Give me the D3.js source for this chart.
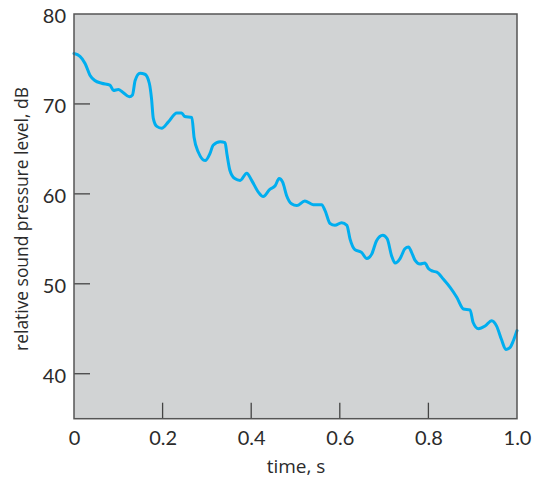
<!DOCTYPE html>
<html>
<head>
<meta charset="utf-8">
<script src="https://cdn.jsdelivr.net/npm/d3@7"></script>
<style>
  html, body { margin: 0; padding: 0; background: #ffffff; }
  svg { display: block; }
</style>
</head>
<body>
<svg id="chart" width="535" height="480"></svg>
<script>
// ---- data ----
const time = [0, 0.0135, 0.025, 0.036, 0.047, 0.0625, 0.081, 0.089, 0.1, 0.11, 0.125, 0.132, 0.138, 0.149, 0.16, 0.17, 0.175, 0.179, 0.187, 0.198, 0.213, 0.232, 0.243, 0.25, 0.266, 0.271, 0.281, 0.296, 0.307, 0.314, 0.33, 0.341, 0.345, 0.352, 0.363, 0.375, 0.39, 0.401, 0.416, 0.427, 0.442, 0.454, 0.463, 0.471, 0.48, 0.491, 0.503, 0.521, 0.54, 0.559, 0.567, 0.578, 0.589, 0.604, 0.616, 0.623, 0.634, 0.649, 0.661, 0.672, 0.683, 0.697, 0.707, 0.717, 0.725, 0.736, 0.747, 0.755, 0.762, 0.77, 0.781, 0.792, 0.8, 0.81, 0.819, 0.834, 0.849, 0.864, 0.879, 0.894, 0.901, 0.913, 0.928, 0.943, 0.954, 0.965, 0.975, 0.984, 0.992, 1.0];
const level = [75.6, 75.3, 74.5, 73.2, 72.6, 72.3, 72.1, 71.5, 71.6, 71.3, 70.8, 71.0, 72.6, 73.4, 73.3, 72.3, 70.6, 68.4, 67.5, 67.3, 68.0, 69.0, 69.0, 68.6, 68.5, 66.3, 64.6, 63.7, 64.5, 65.4, 65.8, 65.7, 64.5, 62.6, 61.7, 61.5, 62.3, 61.5, 60.2, 59.7, 60.5, 60.9, 61.7, 61.3, 59.8, 58.9, 58.7, 59.2, 58.8, 58.8, 58.1, 56.7, 56.5, 56.8, 56.5, 55.0, 53.8, 53.5, 52.8, 53.3, 54.8, 55.4, 55.0, 53.1, 52.3, 52.8, 53.9, 54.1, 53.5, 52.6, 52.2, 52.3, 51.7, 51.4, 51.3, 50.5, 49.6, 48.5, 47.2, 47.1, 45.7, 45.0, 45.3, 45.9, 45.3, 43.8, 42.7, 42.9, 43.7, 44.8];
const xTicks = [0, 0.2, 0.4, 0.6, 0.8, 1.0];
const xTickLabels = ["0", "0.2", "0.4", "0.6", "0.8", "1.0"];
const yTicks = [40, 50, 60, 70, 80];
const xTitle = "time, s";
const yTitle = "relative sound pressure level, dB";

// ---- layout ----
const pLeft = 74, pRight = 517, pTop = 14, pBottom = 418.7;
const font = "Lato, 'Open Sans', sans-serif";
const titleFont = "'Open Sans', Lato, sans-serif";
const textColor = "#2b2b2b";
const svg = d3.select("#chart");

const x = d3.scaleLinear().domain([0, 1]).range([pLeft, pRight]);
const y = d3.scaleLinear().domain([35, 80]).range([pBottom, pTop]);

// background
svg.append("rect")
  .attr("x", pLeft).attr("y", pTop)
  .attr("width", pRight - pLeft).attr("height", pBottom - pTop)
  .attr("fill", "#d1d3d4");

// curve
const pts = time.map((t, i) => [t, level[i]]);
svg.append("path")
  .datum(pts)
  .attr("fill", "none")
  .attr("stroke", "#00aeef")
  .attr("stroke-width", 3)
  .attr("stroke-linejoin", "round")
  .attr("stroke-linecap", "round")
  .attr("d", d3.line().x(d => x(d[0])).y(d => y(d[1])).curve(d3.curveMonotoneX));

// axes
const xAxis = d3.axisBottom(x).tickValues(xTicks)
  .tickFormat((d, i) => xTickLabels[i]).tickSize(0).tickPadding(12);
const gx = svg.append("g").attr("transform", `translate(0,${pBottom})`).call(xAxis);
gx.select(".domain").remove();
gx.selectAll("text").attr("font-family", font).attr("font-size", 20).attr("fill", textColor);

const yAxis = d3.axisLeft(y).tickValues(yTicks).tickSize(0).tickPadding(8);
const gy = svg.append("g").attr("transform", `translate(${pLeft},0)`).call(yAxis);
gy.select(".domain").remove();
gy.selectAll("text").attr("font-family", font).attr("font-size", 20).attr("fill", textColor)
  .attr("dy", "0.42em");

// inward ticks (skip the ones on the frame)
svg.append("g").selectAll("line")
  .data(xTicks.filter(d => d > 0 && d < 1))
  .join("line")
  .attr("x1", d => x(d)).attr("x2", d => x(d))
  .attr("y1", pBottom).attr("y2", pBottom - 16)
  .attr("stroke", "#444").attr("stroke-width", 1.3);
svg.append("g").selectAll("line")
  .data(yTicks.filter(d => d < 80))
  .join("line")
  .attr("x1", pLeft).attr("x2", pLeft + 16)
  .attr("y1", d => y(d)).attr("y2", d => y(d))
  .attr("stroke", "#444").attr("stroke-width", 1.3);

// frame
svg.append("rect")
  .attr("x", pLeft).attr("y", pTop)
  .attr("width", pRight - pLeft).attr("height", pBottom - pTop)
  .attr("fill", "none").attr("stroke", "#555").attr("stroke-width", 1.5);

// titles
svg.append("text")
  .attr("x", 296).attr("y", 473)
  .attr("text-anchor", "middle")
  .attr("font-family", titleFont).attr("font-size", 19).attr("fill", textColor)
  .text(xTitle);
svg.append("text")
  .attr("transform", `translate(28,219) rotate(-90)`)
  .attr("text-anchor", "middle")
  .attr("font-family", titleFont).attr("font-size", 17.4).attr("fill", textColor)
  .text(yTitle);
</script>
</body>
</html>
